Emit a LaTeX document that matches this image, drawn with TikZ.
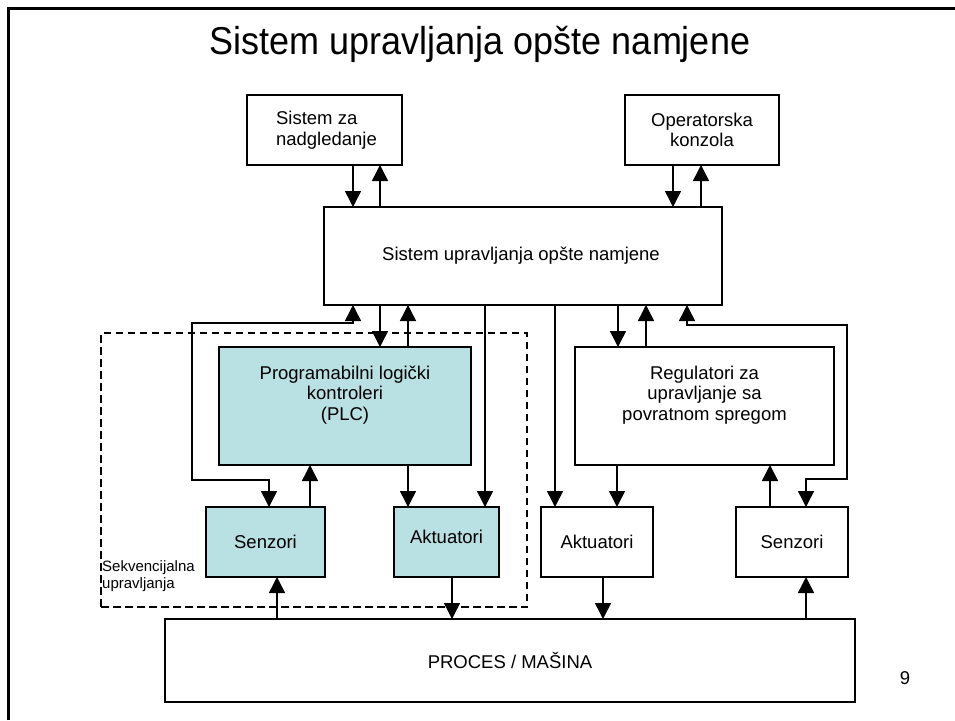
\documentclass[tikz,border=0pt]{standalone}
\usepackage{fontspec}
\setmainfont{Liberation Sans}
\usetikzlibrary{arrows.meta}
\definecolor{plcfill}{RGB}{185,224,226}
\begin{document}
\begin{tikzpicture}[x=1pt,y=-1pt,
  box/.style={draw,line width=1.8pt,rectangle,anchor=north west,outer sep=0pt,inner sep=0pt},
  seqbox/.style={box,fill=plcfill},
  txt/.style={font=\fontsize{18.5}{20.5}\selectfont,align=center,inner sep=0pt},
  link/.style={line width=1.5pt},
  arr/.style={link,-{Triangle[width=16pt,length=16pt]}},
  biarr/.style={link,{Triangle[width=16pt,length=16pt]}-{Triangle[width=16pt,length=16pt]}},
  zone/.style={draw,line width=1.8pt,dash pattern=on 7.5pt off 4.5pt,rectangle,anchor=north west,outer sep=0pt,inner sep=0pt}
]
\useasboundingbox (0,0) rectangle (955,720);

% slide frame (top and left edges)
\draw[line width=3pt] (8,720) -- (8,8) -- (955,8);

% title
\node[font=\fontsize{36}{40}\selectfont,inner sep=0pt] (title) at (480,44) {\scalebox{1}[1.08]{Sistem upravljanja opšte namjene}};

% sequential-control zone
\node[zone,minimum width=426pt,minimum height=274pt] (seqzone) at (101,333) {};
\node[font=\fontsize{15}{17}\selectfont,align=left,inner sep=0pt,anchor=north west] (seqlabel) at (102,560) {Sekvencijalna\\upravljanja};

% blocks
\node[box,minimum width=155pt,minimum height=70pt] (nadz) at (247,95) {};
\node[box,minimum width=154pt,minimum height=70pt] (konz) at (625,95) {};
\node[box,minimum width=398pt,minimum height=98pt] (main) at (324,207) {};
\node[seqbox,minimum width=252pt,minimum height=118pt] (plc) at (219,347) {};
\node[box,minimum width=259pt,minimum height=118pt] (reg) at (575,347) {};
\node[seqbox,minimum width=119pt,minimum height=70pt] (lsen) at (206,507) {};
\node[seqbox,minimum width=105pt,minimum height=70pt] (lakt) at (394,507) {};
\node[box,minimum width=112pt,minimum height=70pt] (rakt) at (541,507) {};
\node[box,minimum width=112pt,minimum height=70pt] (rsen) at (736,507) {};
\node[box,minimum width=690pt,minimum height=83pt] (proc) at (165,619) {};

% block texts
\node[txt,align=left] (nadzT) at ([xshift=2pt]nadz.center) {Sistem za\\nadgledanje};
\node[txt] (konzT) at (konz.center) {Operatorska\\konzola};
\node[txt] (mainT) at ([xshift=-2pt]main.center) {Sistem upravljanja opšte namjene};
\node[txt] (plcT) at ([yshift=11pt]plc.center) {Programabilni logički\\kontroleri\\(PLC)};
\node[txt] (regT) at ([yshift=11pt]reg.center) {Regulatori za\\upravljanje sa\\povratnom spregom};
\node[txt] (lsenT) at (lsen.center) {Senzori};
\node[txt] (laktT) at ([yshift=5pt]lakt.center) {Aktuatori};
\node[txt] (raktT) at (rakt.center) {Aktuatori};
\node[txt] (rsenT) at (rsen.center) {Senzori};
\node[txt] (procT) at (proc.center) {PROCES / MAŠINA};
\node[txt] (pagenum) at (905,678) {9};

% supervision and operator console links
\draw[arr] (nadz.south -| 353,0) -- (main.north -| 353,0);
\draw[arr] (main.north -| 380,0) -- (nadz.south -| 380,0);
\draw[arr] (konz.south -| 673,0) -- (main.north -| 673,0);
\draw[arr] (main.north -| 701,0) -- (konz.south -| 701,0);

% PLC branch
\draw[arr] (main.south -| 380,0) -- (plc.north -| 380,0);
\draw[arr] (plc.north -| 408,0) -- (main.south -| 408,0);
\draw[biarr] (main.south -| 353,0) -- (353,323) -- (192,323) -- (192,480) -- (269,480) -- (lsen.north -| 269,0);
\draw[arr] (lsen.north -| 310,0) -- (plc.south -| 310,0);
\draw[arr] (plc.south -| 408,0) -- (lakt.north -| 408,0);
\draw[arr] (main.south -| 485,0) -- (lakt.north -| 485,0);
\draw[arr] (proc.north -| 277,0) -- (lsen.south -| 277,0);
\draw[arr] (lakt.south -| 452,0) -- (proc.north -| 452,0);

% feedback control branch
\draw[arr] (main.south -| 618,0) -- (reg.north -| 618,0);
\draw[arr] (reg.north -| 646,0) -- (main.south -| 646,0);
\draw[biarr] (main.south -| 687,0) -- (687,325) -- (847,325) -- (847,479) -- (806,479) -- (rsen.north -| 806,0);
\draw[arr] (main.south -| 555,0) -- (rakt.north -| 555,0);
\draw[arr] (reg.south -| 617,0) -- (rakt.north -| 617,0);
\draw[arr] (rsen.north -| 770,0) -- (reg.south -| 770,0);
\draw[arr] (rakt.south -| 603,0) -- (proc.north -| 603,0);
\draw[arr] (proc.north -| 806,0) -- (rsen.south -| 806,0);
\end{tikzpicture}
\end{document}
